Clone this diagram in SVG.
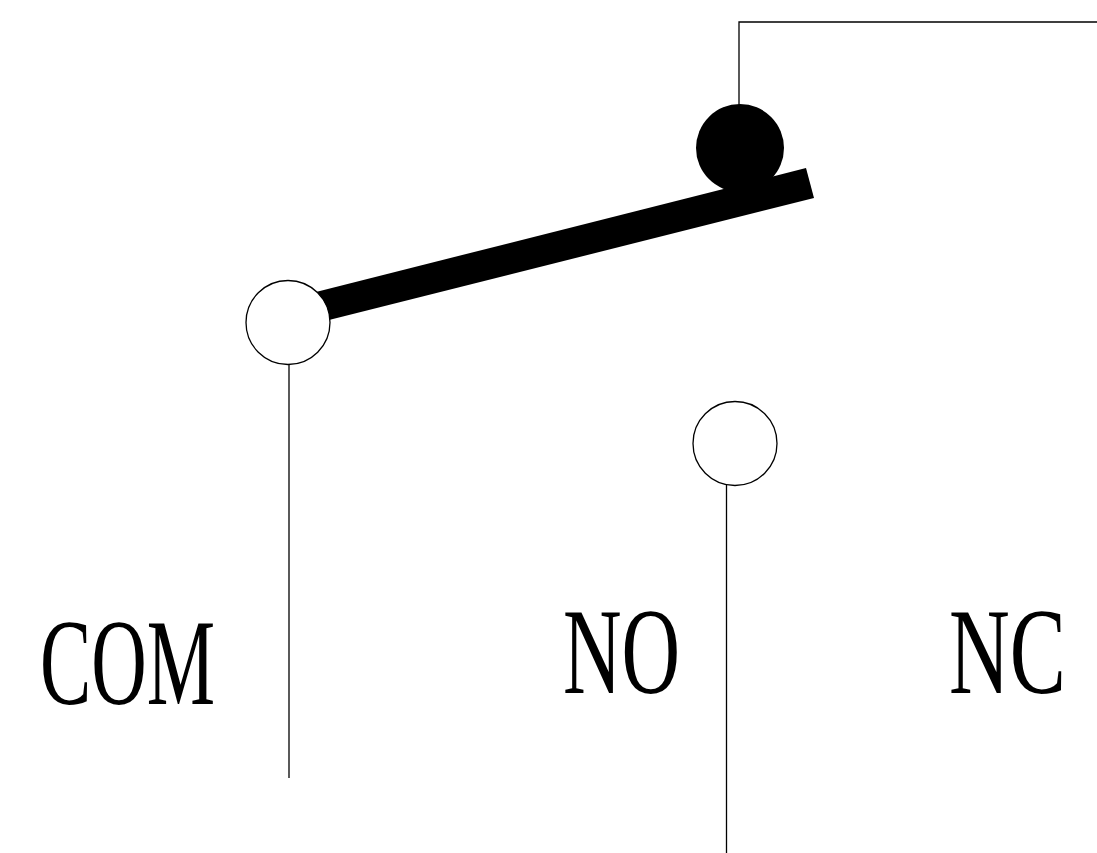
<svg xmlns="http://www.w3.org/2000/svg" width="1097" height="853" viewBox="0 0 1097 853">
<style>
.w{fill:none;stroke:#000;stroke-width:1.3}
.c{fill:#fff;stroke:#000;stroke-width:1.3}
.t{font-family:"Liberation Serif",serif;font-size:122px;fill:#000}
</style>
<rect width="1097" height="853" fill="#fff"/>
<g id="connectors">
<path class="w" d="M1097 22H739V110"/>
<path class="w" d="M289 362V778"/>
<path class="w" d="M726.500 484V853"/>
</g>
<g id="contact"><circle cx="740" cy="148" r="44" fill="#000"/></g>
<g id="arm"><polygon points="312,293 806,168 814,198 325,321" fill="#000"/></g>
<g id="com-node"><circle class="c" cx="288" cy="322.500" r="42"/></g>
<g id="no-node"><circle class="c" cx="735" cy="443.500" r="42"/></g>
<g id="com-label"><text class="t" transform="translate(40 704) scale(0.63 1)">COM</text></g>
<g id="no-label"><text class="t" transform="translate(563 693) scale(0.665 1)">NO</text></g>
<g id="nc-label"><text class="t" transform="translate(949 693) scale(0.69 1)">NC</text></g>
</svg>
